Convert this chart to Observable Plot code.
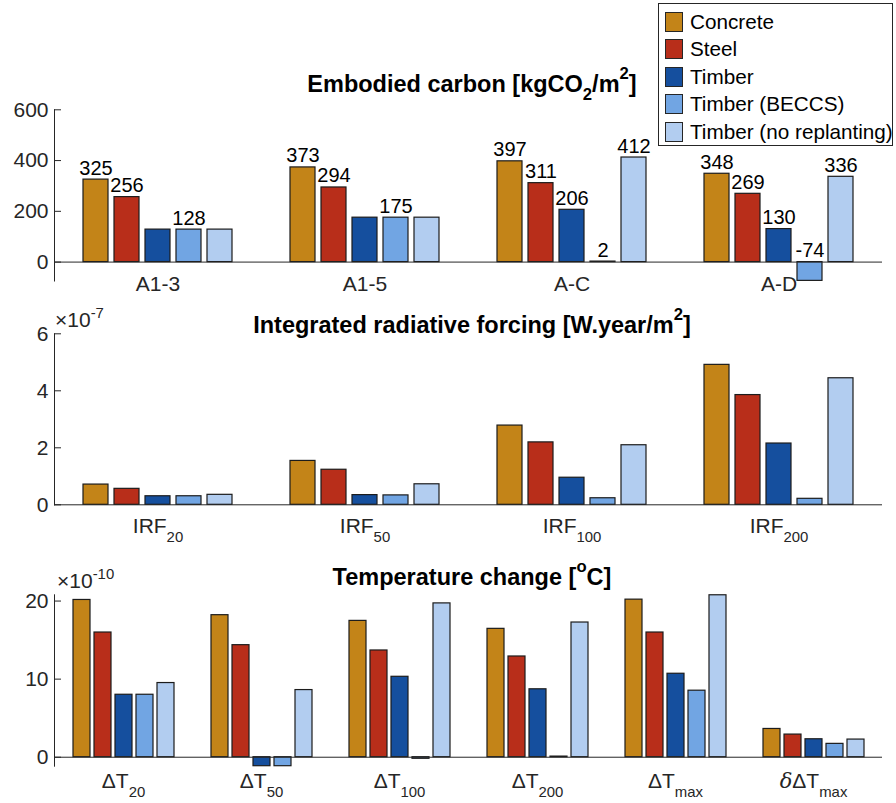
<!DOCTYPE html>
<html><head><meta charset="utf-8">
<script src="https://cdn.jsdelivr.net/npm/d3@7"></script>
<script src="https://cdn.jsdelivr.net/npm/@observablehq/plot@0.6"></script>
<style>
body{margin:0;background:#fff;}
#chart{position:relative;width:896px;height:803px;font-family:"Liberation Sans",Arial,Helvetica,sans-serif;}
#chart svg{display:block;}
.legend{position:absolute;left:658px;top:3px;width:235px;height:143px;border:1px solid #262626;background:#fff;box-sizing:border-box;padding:4.3px 0 0 6px;}
.legend .row{height:27.4px;display:flex;align-items:center;font-size:20.7px;color:#000;white-space:nowrap;}
.legend .sw{width:18px;height:20px;box-sizing:border-box;border:1px solid #262626;margin-right:7px;flex:none;}
</style></head><body><div id="chart"></div>
<script>
// ---- series / legend ----
const series = ["Concrete", "Steel", "Timber", "Timber (BECCS)", "Timber (no replanting)"];
const seriesColors = ["#C38418", "#B82E1A", "#154F9E", "#71A5E3", "#B2CDF0"];

// ---- Panel 1: embodied carbon [kgCO2/m2] ----
const carbonTitle = "Embodied carbon [kgCO_{2}/m^{2}]";
const carbonStages = ["A1-3", "A1-5", "A-C", "A-D"];
const carbonConcrete = [325, 373, 397, 348];
const carbonSteel = [256, 294, 311, 269];
const carbonTimber = [128, 175, 206, 130];
const carbonBeccs = [128, 175, 2, -74];
const carbonNoReplant = [128, 175, 412, 336];
// which bars carry a value label (per stage, per series)
const carbonLabelled = [[1,1,0,1,0],[1,1,0,1,0],[1,1,1,1,1],[1,1,1,1,1]];
const carbonTicks = [0, 200, 400, 600];

// ---- Panel 2: integrated radiative forcing (x 10^-7) ----
const irfTitle = "Integrated radiative forcing [W.year/m^{2}]";
const irfExponent = "×10^{-7}";
const irfHorizons = ["IRF_{20}", "IRF_{50}", "IRF_{100}", "IRF_{200}"];
const irfConcrete = [0.71, 1.54, 2.78, 4.91];
const irfSteel = [0.56, 1.23, 2.19, 3.85];
const irfTimber = [0.30, 0.34, 0.95, 2.15];
const irfBeccs = [0.30, 0.33, 0.23, 0.21];
const irfNoReplant = [0.35, 0.72, 2.09, 4.44];
const irfTicks = [0, 2, 4, 6];

// ---- Panel 3: temperature change (x 10^-10) ----
const tempTitle = "Temperature change [^{o}C]";
const tempExponent = "×10^{-10}";
const tempMetrics = ["ΔT_{20}", "ΔT_{50}", "ΔT_{100}", "ΔT_{200}", "ΔT_{max}", "δΔT_{max}"];
const tempConcrete = [20.14, 18.19, 17.46, 16.44, 20.18, 3.62];
const tempSteel = [15.97, 14.35, 13.67, 12.90, 15.97, 2.90];
const tempTimber = [8.0, -1.15, 10.3, 8.7, 10.69, 2.30];
const tempBeccs = [8.0, -1.15, -0.2, 0.08, 8.52, 1.71];
const tempNoReplant = [9.5, 8.6, 19.7, 17.25, 20.74, 2.26];
const tempTicks = [0, 10, 20];

const FONT = '"Liberation Sans", Arial, Helvetica, sans-serif';
const AX = "#262626";

function richText(el, str, base, supF = 0.5, subF = 0.42) {
  const sel = d3.select(el);
  sel.text(null);
  const parts = str.split(/(_\{[^}]*\}|\^\{[^}]*\}|δ)/g).filter(p => p !== "");
  let shift = 0;
  for (const p of parts) {
    let content = p, dy = 0, size = null, italic = false;
    if (p.startsWith("_{")) { content = p.slice(2, -1); dy = subF * base; size = 0.71 * base; }
    else if (p.startsWith("^{")) { content = p.slice(2, -1); dy = -supF * base; size = 0.71 * base; }
    else if (p === "δ") italic = true;
    const t = sel.append("tspan").text(content);
    if (dy - shift) t.attr("dy", dy - shift);
    shift = dy;
    if (size) t.attr("font-size", size);
    if (italic) t.attr("font-style", "italic").attr("font-family", "DejaVu Serif, serif");
  }
}

function panel({cats, values, labelled, domain, ticks, height, mt, mb, catDy, title, titleY, expo, expoX, expoY}) {
  const data = [];
  cats.forEach((c, i) => series.forEach((s, j) => data.push({
    group: c, series: s, value: values[j][i], show: labelled ? labelled[i][j] : 0
  })));
  const marks = [
    Plot.barY(data, {fx: "group", x: "series", y1: () => 0, y2: "value", fill: "series",
      stroke: "#1c1c1c", strokeWidth: 1.2, inset: 0}),
    Plot.ruleY([0], {stroke: AX, strokeWidth: 1}),
    Plot.text(cats, {fx: d => d, y: () => 0, text: d => d, lineAnchor: "bottom", dy: catDy,
      fontSize: 21, fill: AX})
  ];
  if (labelled) {
    marks.push(Plot.text(data.filter(d => d.show), {fx: "group", x: "series",
      y: d => Math.max(d.value, 0), text: d => String(d.value), lineAnchor: "bottom", dy: -5,
      fontSize: 20, fill: "#000"}));
  }
  const svg = Plot.plot({
    width: 896, height, marginLeft: 53, marginRight: 13, marginTop: mt, marginBottom: mb,
    fx: {domain: cats, padding: 0, axis: null, label: null},
    x: {domain: series, paddingInner: 0.2, paddingOuter: 0.84, axis: null},
    y: {domain, ticks, tickFormat: d => String(d), tickSize: -7, tickPadding: 13, label: null, line: true},
    color: {domain: series, range: seriesColors},
    style: {fontFamily: FONT, fontSize: "21px", color: AX, background: "#fff", overflow: "visible"},
    marks
  });
  // rich (sub/superscript) category labels
  d3.select(svg).selectAll("text").each(function () {
    const s = this.textContent;
    if (cats.includes(s) && /[_^]\{|δ/.test(s)) richText(this, s, 21, 0.5, 0.43);
  });
  const s = d3.select(svg);
  const t = s.append("text").attr("x", 472).attr("y", titleY).attr("text-anchor", "middle")
    .attr("font-weight", "bold").attr("font-size", 23.5).attr("fill", "#000").attr("font-family", FONT);
  richText(t.node(), title, 23.5, 0.55, 0.34);
  if (expo) {
    const e = s.append("text").attr("x", expoX).attr("y", expoY).attr("font-size", 21)
      .attr("text-anchor", "start").attr("fill", AX).attr("font-family", FONT);
    richText(e.node(), expo, 21, 0.45, 0.4);
  }
  return svg;
}

const chart = document.getElementById("chart");

chart.appendChild(panel({
  cats: carbonStages,
  values: [carbonConcrete, carbonSteel, carbonTimber, carbonBeccs, carbonNoReplant],
  labelled: carbonLabelled,
  domain: [-74.5, 600], ticks: carbonTicks,
  height: 300, mt: 109.3, mb: 19.5, catDy: 28.5,
  title: carbonTitle, titleY: 92
}));
chart.appendChild(panel({
  cats: irfHorizons,
  values: [irfConcrete, irfSteel, irfTimber, irfBeccs, irfNoReplant],
  domain: [0, 6], ticks: irfTicks,
  height: 245, mt: 33.3, mb: 40.7, catDy: 28.5,
  title: irfTitle, titleY: 33, expo: irfExponent, expoX: 55, expoY: 27
}));
chart.appendChild(panel({
  cats: tempMetrics,
  values: [tempConcrete, tempSteel, tempTimber, tempBeccs, tempNoReplant],
  domain: [-1.15, 20.8], ticks: tempTicks,
  height: 258, mt: 49.3, mb: 37.3, catDy: 31,
  title: tempTitle, titleY: 40, expo: tempExponent, expoX: 57, expoY: 43
}));

// legend
const legend = document.createElement("div");
legend.className = "legend";
series.forEach((s, i) => {
  const row = document.createElement("div");
  row.className = "row";
  const sw = document.createElement("span");
  sw.className = "sw";
  sw.style.background = seriesColors[i];
  const lab = document.createElement("span");
  lab.textContent = s;
  row.appendChild(sw); row.appendChild(lab);
  legend.appendChild(row);
});
chart.appendChild(legend);
</script>
</body></html>
